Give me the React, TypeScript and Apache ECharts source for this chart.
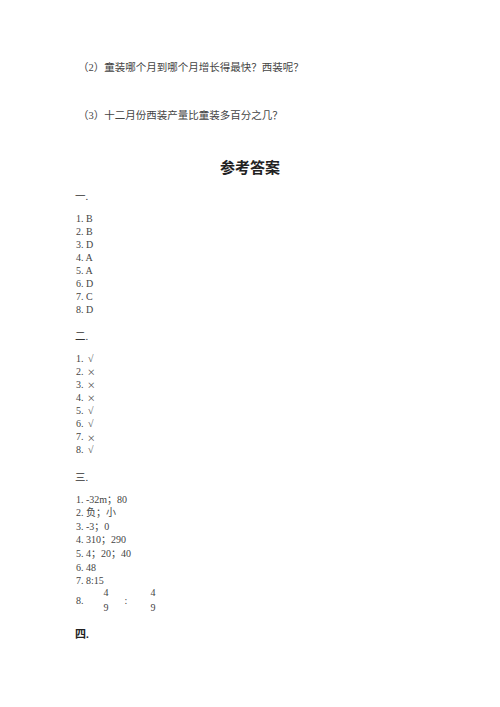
import React, { useEffect, useRef } from "react";
import * as echarts from "echarts";

// questions left over from the previous page
const questions = [
  "（2）童装哪个月到哪个月增长得最快？西装呢？",
  "（3）十二月份西装产量比童装多百分之几？",
];
const title = "参考答案";
const sectionNames = ["一.", "二.", "三.", "四."];
const answersOne = ["B", "B", "D", "A", "A", "D", "C", "D"];
const answersTwo = ["√", "×", "×", "×", "√", "√", "×", "√"];
const answersThree = ["-32m；80", "负；小", "-3；0", "310；290", "4；20；40", "48", "8:15"];
const fractionAnswer = { num: "4", den: "9" };

const FONT = "'Liberation Serif', 'DejaVu Serif', 'Noto Sans CJK SC', serif";
const CJK = "'Noto Sans CJK SC', sans-serif";
const GREY = "#444";

const txt = (text: string, x: number, y: number, size = 10, extra: any = {}) => ({
  type: "text",
  x,
  y,
  style: {
    text,
    fontFamily: FONT,
    fontSize: size,
    fill: GREY,
    textVerticalAlign: "middle",
    ...extra,
  },
});

const App = () => {
  const chartRef = useRef<HTMLDivElement>(null);

  useEffect(() => {
    if (!chartRef.current) return;
    const chart = echarts.init(chartRef.current, null, { renderer: "svg" });

    const elements: any[] = [];
    // left over questions
    elements.push(txt(questions[0], 78, 67, 10.5));
    elements.push(txt(questions[1], 78, 115, 10.5));
    // heading
    elements.push(
      txt(title, 250, 166, 15, { fontWeight: "bold", fill: "#222", textAlign: "center", fontFamily: CJK })
    );

    // section 一
    elements.push(txt(sectionNames[0], 75, 196, 10.5, { fill: "#333" }));
    answersOne.forEach((a, i) => elements.push(txt(`${i + 1}. ${a}`, 76, 218 + i * 13, 10)));

    // section 二, the cross drawn in the CJK face so that it is as wide as the reference's
    elements.push(txt(sectionNames[1], 75, 336, 10.5, { fill: "#333" }));
    answersTwo.forEach((a, i) => {
      const y = 358 + i * 13.1;
      elements.push(txt(`${i + 1}.`, 76, y, 10));
      if (a === "×") {
        elements.push(txt(a, 87, y, 8.5, { fontFamily: CJK, fill: "#555" }));
      } else {
        elements.push(txt(a, 88, y, 10, { fill: "#555" }));
      }
    });

    // section 三
    elements.push(txt(sectionNames[2], 75, 477, 10.5, { fill: "#333" }));
    answersThree.forEach((a, i) => elements.push(txt(`${i + 1}. ${a}`, 76, 499 + i * 13.6, 10)));
    // item 8, two fractions
    elements.push(txt("8.", 76, 600, 10));
    [106, 153].forEach((fx) => {
      elements.push(txt(fractionAnswer.num, fx, 592, 10, { textAlign: "center" }));
      elements.push(txt(fractionAnswer.den, fx, 607, 10, { textAlign: "center" }));
    });
    elements.push(txt(":", 126, 600, 10, { textAlign: "center" }));

    // section 四
    elements.push(txt(sectionNames[3], 75, 634, 11, { fontWeight: "bold", fill: "#222" }));

    chart.setOption({
      animation: false,
      backgroundColor: "#fff",
      graphic: { elements },
    });

    return () => {
      chart.dispose();
    };
  }, []);

  return (
    <div
      ref={chartRef}
      style={{ position: "absolute", left: 0, top: 0, width: "500px", height: "707px" }}
    ></div>
  );
};

export default App;
